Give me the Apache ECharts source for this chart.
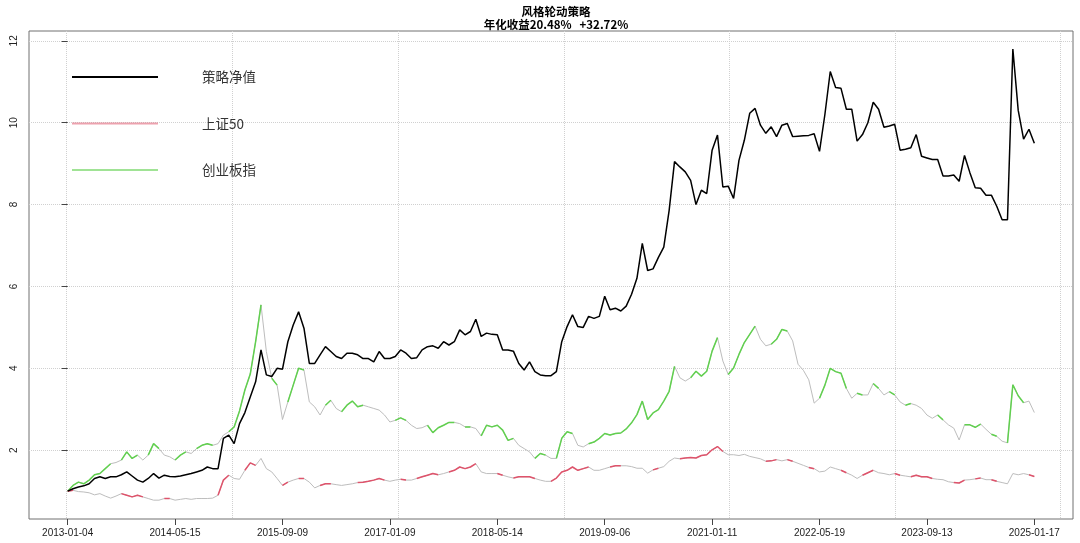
<!DOCTYPE html>
<html>
<head>
<meta charset="utf-8">
<script src="https://cdn.jsdelivr.net/npm/echarts@6/dist/echarts.min.js"></script>
<style>
html, body { margin: 0; padding: 0; background: #fff; }
#main { width: 1080px; height: 543px; }
</style>
</head>
<body>
<div id="main"></div>
<script>
// 横轴：每个点约 11 个交易日，标签每 20 个点一个
var tickLabels = ['2013-01-04', '2014-05-15', '2015-09-09', '2017-01-09', '2018-05-14',
    '2019-09-06', '2021-01-11', '2022-05-19', '2023-09-13', '2025-01-17'];
var tickIdx = [0, 20, 40, 60, 80, 100, 120, 140, 160, 180];
// 竖向网格线所在的点位
var gridIdx = [-0.2, 30.7, 61.6, 92.4, 123.2, 154.1, 184.9];
var yTicks = [2, 4, 6, 8, 10, 12];

// 策略净值
var strategy = [
    1.00, 1.06, 1.10, 1.13, 1.18, 1.31, 1.35, 1.31, 1.35, 1.35,
    1.40, 1.47, 1.37, 1.27, 1.22, 1.31, 1.43, 1.32, 1.39, 1.36,
    1.35, 1.37, 1.40, 1.43, 1.47, 1.51, 1.59, 1.55, 1.55, 2.29,
    2.37, 2.16, 2.65, 2.92, 3.30, 3.67, 4.45, 3.84, 3.80, 4.00,
    3.98, 4.65, 5.06, 5.38, 4.98, 4.12, 4.12, 4.33, 4.53, 4.41,
    4.29, 4.24, 4.37, 4.37, 4.33, 4.24, 4.24, 4.16, 4.41, 4.24,
    4.24, 4.29, 4.45, 4.37, 4.24, 4.26, 4.45, 4.53, 4.55, 4.49,
    4.65, 4.57, 4.65, 4.94, 4.82, 4.90, 5.20, 4.78, 4.86, 4.83,
    4.82, 4.45, 4.45, 4.42, 4.12, 3.96, 4.16, 3.92, 3.84, 3.82,
    3.82, 3.92, 4.65, 5.02, 5.31, 5.02, 5.00, 5.27, 5.22, 5.27,
    5.76, 5.43, 5.47, 5.40, 5.52, 5.81, 6.20, 7.05, 6.39, 6.43,
    6.71, 6.96, 7.86, 9.05, 8.92, 8.80, 8.59, 8.00, 8.35, 8.27,
    9.33, 9.70, 8.43, 8.45, 8.15, 9.08, 9.57, 10.23, 10.35, 9.94,
    9.74, 9.90, 9.66, 9.94, 9.98, 9.66, 9.67, 9.68, 9.69, 9.73,
    9.30, 10.20, 11.25, 10.86, 10.84, 10.33, 10.33, 9.55, 9.71, 10.00,
    10.50, 10.33, 9.89, 9.92, 9.96, 9.33, 9.35, 9.39, 9.71, 9.18,
    9.14, 9.10, 9.10, 8.70, 8.70, 8.72, 8.57, 9.20, 8.78, 8.41,
    8.40, 8.23, 8.23, 7.96, 7.63, 7.63, 11.80, 10.30, 9.60, 9.84,
    9.50
];
// 创业板指
var cyb = [
    1.00, 1.14, 1.22, 1.18, 1.27, 1.40, 1.43, 1.55, 1.67, 1.70,
    1.76, 1.96, 1.80, 1.88, 1.76, 1.88, 2.16, 2.04, 1.88, 1.84,
    1.76, 1.88, 1.96, 1.92, 2.04, 2.12, 2.16, 2.12, 2.16, 2.37,
    2.45, 2.57, 2.96, 3.47, 3.86, 4.65, 5.55, 4.41, 3.76, 3.59,
    2.75, 3.18, 3.59, 4.00, 3.96, 3.18, 3.06, 2.86, 3.10, 3.22,
    3.02, 2.94, 3.10, 3.20, 3.06, 3.10, 3.06, 3.02, 2.98, 2.86,
    2.69, 2.73, 2.79, 2.73, 2.61, 2.53, 2.55, 2.61, 2.43, 2.55,
    2.61, 2.68, 2.68, 2.65, 2.57, 2.57, 2.53, 2.35, 2.61, 2.57,
    2.61, 2.49, 2.24, 2.29, 2.12, 2.04, 1.96, 1.80, 1.92, 1.88,
    1.80, 1.80, 2.29, 2.45, 2.41, 2.12, 2.08, 2.16, 2.20, 2.29,
    2.41, 2.37, 2.41, 2.42, 2.52, 2.67, 2.87, 3.20, 2.75, 2.91,
    2.99, 3.20, 3.44, 4.05, 3.77, 3.69, 3.77, 3.93, 3.81, 3.93,
    4.42, 4.75, 4.18, 3.85, 4.01, 4.34, 4.63, 4.83, 5.03, 4.71,
    4.55, 4.59, 4.71, 4.95, 4.91, 4.67, 4.10, 3.95, 3.72, 3.15,
    3.27, 3.59, 4.00, 3.92, 3.88, 3.51, 3.27, 3.39, 3.35, 3.35,
    3.63, 3.51, 3.35, 3.43, 3.35, 3.18, 3.10, 3.14, 3.10, 3.02,
    2.86, 2.78, 2.86, 2.74, 2.62, 2.54, 2.25, 2.62, 2.62, 2.56,
    2.64, 2.51, 2.39, 2.34, 2.22, 2.18, 3.60, 3.33, 3.16, 3.20,
    2.92
];
// 上证50
var sz50 = [
    1.00, 1.02, 0.99, 0.98, 0.96, 0.91, 0.94, 0.88, 0.83, 0.88,
    0.94, 0.90, 0.86, 0.90, 0.86, 0.82, 0.78, 0.78, 0.82, 0.82,
    0.78, 0.80, 0.82, 0.80, 0.82, 0.82, 0.82, 0.83, 0.90, 1.27,
    1.39, 1.31, 1.29, 1.51, 1.69, 1.63, 1.80, 1.55, 1.47, 1.31,
    1.14, 1.22, 1.27, 1.31, 1.31, 1.22, 1.08, 1.14, 1.18, 1.18,
    1.16, 1.14, 1.16, 1.18, 1.21, 1.22, 1.24, 1.27, 1.31, 1.27,
    1.24, 1.27, 1.29, 1.27, 1.27, 1.31, 1.35, 1.39, 1.43, 1.40,
    1.43, 1.47, 1.51, 1.59, 1.55, 1.59, 1.67, 1.47, 1.43, 1.43,
    1.43, 1.39, 1.35, 1.32, 1.35, 1.35, 1.35, 1.31, 1.27, 1.24,
    1.24, 1.32, 1.47, 1.51, 1.59, 1.51, 1.55, 1.59, 1.51, 1.51,
    1.55, 1.59, 1.62, 1.62, 1.62, 1.60, 1.56, 1.56, 1.44, 1.52,
    1.56, 1.60, 1.73, 1.81, 1.79, 1.81, 1.82, 1.81, 1.87, 1.89,
    2.01, 2.09, 1.97, 1.89, 1.89, 1.87, 1.90, 1.85, 1.82, 1.79,
    1.73, 1.74, 1.77, 1.74, 1.77, 1.73, 1.68, 1.63, 1.58, 1.55,
    1.47, 1.49, 1.59, 1.55, 1.51, 1.45, 1.39, 1.31, 1.39, 1.45,
    1.51, 1.45, 1.43, 1.40, 1.43, 1.39, 1.37, 1.35, 1.39, 1.35,
    1.35, 1.31, 1.29, 1.28, 1.23, 1.21, 1.20, 1.27, 1.28, 1.30,
    1.32, 1.28, 1.28, 1.24, 1.21, 1.18, 1.43, 1.40, 1.43, 1.40,
    1.36
];
// 持仓区间（起点, 终点），区间内的指数线上色
var cybHeld = [[0, 6], [7, 8], [10, 13], [15, 17], [20, 22], [24, 27], [30, 36], [38, 39],
    [41, 44], [48, 49], [51, 53], [54, 55], [61, 63], [67, 68], [69, 72], [74, 75], [77, 81],
    [82, 83], [87, 89], [91, 94], [97, 108], [109, 113], [116, 121], [123, 128], [131, 134],
    [140, 143], [144, 145], [147, 148], [150, 151], [153, 154], [156, 157], [162, 163],
    [167, 168], [169, 170], [172, 173], [175, 178]];
var sz50Held = [[0, 1], [10, 11], [12, 14], [18, 19], [28, 30], [33, 35], [40, 41], [43, 44],
    [47, 49], [54, 59], [62, 63], [65, 69], [71, 76], [80, 81], [83, 87], [90, 92], [93, 95],
    [96, 97], [101, 103], [109, 110], [114, 122], [130, 132], [134, 135], [138, 139],
    [144, 145], [148, 150], [154, 155], [157, 159], [160, 161], [165, 167], [169, 170],
    [172, 173], [179, 180]];

function toPoints(arr) {
    return arr.map(function (v, i) { return [i, v]; });
}
function heldPoints(arr, ranges) {
    return arr.map(function (v, i) {
        var on = ranges.some(function (r) { return i >= r[0] && i <= r[1]; });
        return on ? [i, v] : [i, null];
    });
}

var font = 'Noto Sans CJK SC';
var chart = echarts.init(document.getElementById('main'), null, { renderer: 'canvas' });
var gridLine = { show: true, lineStyle: { color: '#d0d0d0', type: 'dotted', width: 1 } };

var option = {
    animation: false,
    backgroundColor: '#fff',
    title: {
        text: '风格轮动策略\n年化收益20.48%   +32.72%',
        left: 551,
        top: 0,
        textAlign: 'center',
        textStyle: { fontSize: 11.5, fontWeight: 'bold', color: '#000', lineHeight: 13, fontFamily: font }
    },
    legend: {
        orient: 'vertical',
        left: 72,
        top: 69,
        padding: 0,
        icon: 'rect',
        itemWidth: 86,
        itemHeight: 2,
        itemGap: 30.5,
        selectedMode: false,
        itemStyle: { borderWidth: 0 },
        textStyle: { fontSize: 13.5, color: '#333', lineHeight: 16, padding: [0, 0, 0, 39], fontFamily: font },
        data: [
            { name: '策略净值', itemStyle: { color: '#000' } },
            { name: '上证50', itemStyle: { color: 'rgba(223,83,107,0.55)' } },
            { name: '创业板指', itemStyle: { color: 'rgba(97,208,79,0.6)' } }
        ]
    },
    grid: {
        left: 29, right: 7, top: 31, bottom: 24,
        show: true, borderColor: '#707070', borderWidth: 1, backgroundColor: 'transparent'
    },
    xAxis: [{
        type: 'value',
        min: -7.2,
        max: 187.2,
        axisLine: { show: false },
        axisTick: { show: true, length: 6, customValues: tickIdx, lineStyle: { color: '#444' } },
        axisLabel: {
            customValues: tickIdx,
            margin: 9,
            fontSize: 10,
            color: '#222',
            fontFamily: 'Liberation Sans',
            formatter: function (v) { return tickLabels[Math.round(v / 20)]; }
        },
        splitLine: { show: false }
    }, {
        type: 'value',
        position: 'bottom',
        min: -7.2,
        max: 187.2,
        axisLine: { show: false },
        axisTick: { show: false, customValues: gridIdx },
        axisLabel: { show: false, customValues: gridIdx },
        splitLine: gridLine
    }],
    yAxis: {
        type: 'value',
        min: 0.32,
        max: 12.24,
        axisLine: { show: false },
        axisTick: { show: true, length: 6, customValues: yTicks, lineStyle: { color: '#444' } },
        axisLabel: {
            customValues: yTicks,
            rotate: 90,
            margin: 10,
            fontSize: 10,
            color: '#222',
            fontFamily: 'Liberation Sans'
        },
        splitLine: gridLine
    },
    series: [{
        name: 'cyb_all', type: 'line', data: toPoints(cyb), showSymbol: false, silent: true,
        lineStyle: { color: '#bdbdbd', width: 1 }, itemStyle: { color: '#bdbdbd' }
    }, {
        name: 'sz50_all', type: 'line', data: toPoints(sz50), showSymbol: false, silent: true,
        lineStyle: { color: '#bdbdbd', width: 1 }, itemStyle: { color: '#bdbdbd' }
    }, {
        name: '创业板指', type: 'line', data: heldPoints(cyb, cybHeld), showSymbol: false, silent: true,
        lineStyle: { color: '#61D04F', width: 1.5 }, itemStyle: { color: '#61D04F' }
    }, {
        name: '上证50', type: 'line', data: heldPoints(sz50, sz50Held), showSymbol: false, silent: true,
        lineStyle: { color: '#DF536B', width: 1.5 }, itemStyle: { color: '#DF536B' }
    }, {
        name: '策略净值', type: 'line', data: toPoints(strategy), showSymbol: false, silent: true,
        lineStyle: { color: '#000', width: 1.5 }, itemStyle: { color: '#000' }
    }]
};
chart.setOption(option);
</script>
</body>
</html>
